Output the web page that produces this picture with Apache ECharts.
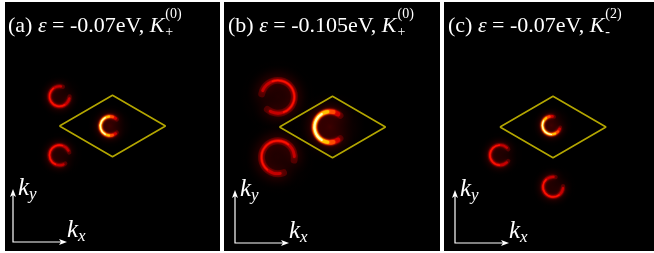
<!DOCTYPE html>
<html>
<head>
<meta charset="utf-8">
<script src="https://cdn.jsdelivr.net/npm/echarts@6/dist/echarts.min.js"></script>
<style>
  html, body { margin: 0; padding: 0; background: #fff; }
  #chart { width: 654px; height: 253px; }
</style>
</head>
<body>
<div id="chart"></div>
<script>
// panel labels
const panelTags = ['(a)', '(b)', '(c)'];
const energies = ['-0.07eV', '-0.105eV', '-0.07eV'];
const valleySub = ['+', '+', '-'];
const valleySup = ['(0)', '(0)', '(2)'];

// zone outline (k units, centred on the valley)
const rhombus = [[-1, 0], [0, 0.58], [1, 0], [0, -0.58], [-1, 0]];

// crescents: [kx, ky, radius, gap direction (deg), gap width (deg), brightness]
const crescentsA = [
  [-0.05, 0, 0.18, 0, 85, 1],
  [-1.0, 0.56, 0.19, 35, 70, 0.55],
  [-1.0, -0.55, 0.19, -20, 70, 0.55]
];
const crescentsB = [
  [-0.05, 0, 0.29, 0, 95, 1],
  [-1.03, 0.57, 0.31, 200, 60, 0.55],
  [-1.03, -0.57, 0.31, -40, 60, 0.55]
];
const crescentsC = [
  [-0.03, 0.03, 0.17, 30, 85, 1],
  [-1.0, -0.53, 0.19, 0, 70, 0.55],
  [0, -1.13, 0.19, 40, 70, 0.55]
];
const crescents = [crescentsA, crescentsB, crescentsC];

// layout
const boxes = [[5, 2, 215, 249], [224, 2, 216, 249], [444, 2, 210, 249]];
const centres = [[112.5, 126], [332.5, 127], [553, 127]];
const pxPerK = 53;
const arrowOrigins = [[13, 242], [235, 243], [455, 243]];

const chart = echarts.init(document.getElementById('chart'));

const ctx = document.createElement('canvas').getContext('2d');
const textW = (t, font) => { ctx.font = font; return ctx.measureText(t).width; };

const grids = [], xAxes = [], yAxes = [], series = [], graphics = [];

function renderCrescent(params, api) {
  const c = api.coord([api.value(0), api.value(1)]);
  const r = api.size([api.value(2), 0])[0];
  const dir = api.value(3) * Math.PI / 180;
  const gw = api.value(4) * Math.PI / 180;
  const b = api.value(5);
  const mid = -dir + Math.PI;
  const span = 2 * Math.PI - gw;
  const arc = (frac, color, width, blur, opacity) => ({
    type: 'arc',
    shape: { cx: c[0], cy: c[1], r: r, startAngle: mid - span * frac / 2, endAngle: mid + span * frac / 2, clockwise: true },
    style: { stroke: color, fill: 'none', lineWidth: width, lineCap: 'round', shadowBlur: blur, shadowColor: color, opacity: opacity }
  });
  const children = [
    {
      type: 'circle',
      shape: { cx: c[0], cy: c[1], r: r * 2.3 },
      style: {
        fill: new echarts.graphic.RadialGradient(0.5, 0.5, 0.5, [
          { offset: 0, color: `rgba(110,0,0,${0.55 * b})` },
          { offset: 0.5, color: `rgba(60,0,0,${0.32 * b})` },
          { offset: 1, color: 'rgba(30,0,0,0)' }
        ])
      }
    },
    arc(1, '#6a0000', r * 0.42, r * 0.7, 0.7)
  ];
  if (b > 0.8) {
    children.push(arc(0.92, '#d00000', r * 0.3, 3, 1));
    children.push(arc(0.78, '#ff4a00', r * 0.26, 2, 1));
    children.push(arc(0.62, '#ffc400', r * 0.2, 2, 1));
    children.push(arc(0.44, '#ffffb8', r * 0.12, 1, 1));
  } else {
    children.push(arc(0.92, '#c80000', Math.max(2.2, r * 0.17), 3, 0.95));
    children.push(arc(0.6, '#ff1400', Math.max(1.2, r * 0.08), 1, 0.8));
  }
  return { type: 'group', children: children };
}

boxes.forEach((box, i) => {
  const [left, top, w, h] = box;
  const [cx, cy] = centres[i];
  grids.push({ left: left, top: top, width: w, height: h, show: true, backgroundColor: '#000', borderWidth: 0 });
  xAxes.push({ gridIndex: i, type: 'value', min: (left - cx) / pxPerK, max: (left + w - cx) / pxPerK, show: false });
  yAxes.push({ gridIndex: i, type: 'value', min: -(top + h - cy) / pxPerK, max: (cy - top) / pxPerK, show: false });

  series.push({
    type: 'custom',
    xAxisIndex: i, yAxisIndex: i,
    data: crescents[i],
    renderItem: renderCrescent,
    silent: true, animation: false, z: 2
  });
  series.push({
    type: 'line',
    xAxisIndex: i, yAxisIndex: i,
    data: rhombus,
    symbol: 'none',
    lineStyle: { color: '#b3a600', width: 1.6 },
    silent: true, animation: false, z: 3
  });

  // title
  const fN = '22px "Liberation Serif"';
  const fI = 'italic 22px "Liberation Serif"';
  const fS = '14px "Liberation Serif"';
  let x = left + (i === 0 ? 3 : 4);
  const ty = 15;
  const parts = [
    [panelTags[i] + ' ', fN],
    ['\u03b5', fI],
    [' = ' + energies[i] + ', ', fN],
    ['K', fI]
  ];
  parts.forEach(([t, f]) => {
    graphics.push({ type: 'text', x: x, y: ty, style: { text: t, font: f, fill: '#fff' }, z: 10 });
    x += textW(t, f);
  });
  graphics.push({ type: 'text', x: x + 1, y: ty + 10, style: { text: valleySub[i], font: fS, fill: '#fff' }, z: 10 });
  graphics.push({ type: 'text', x: x + 1, y: ty - 8, style: { text: valleySup[i], font: fS, fill: '#fff' }, z: 10 });

  // axis arrows
  const [ox, oy] = arrowOrigins[i];
  const lenX = 54, lenY = 53;
  graphics.push({ type: 'polyline', shape: { points: [[ox, oy - lenY + 4], [ox, oy], [ox + lenX - 4, oy]] }, style: { stroke: '#fff', lineWidth: 1.2, fill: 'none' }, z: 10 });
  graphics.push({ type: 'polygon', shape: { points: [[ox, oy - lenY], [ox - 3, oy - lenY + 8], [ox, oy - lenY + 6], [ox + 3, oy - lenY + 8]] }, style: { fill: '#fff' }, z: 10 });
  graphics.push({ type: 'polygon', shape: { points: [[ox + lenX, oy], [ox + lenX - 8, oy - 3], [ox + lenX - 6, oy], [ox + lenX - 8, oy + 3]] }, style: { fill: '#fff' }, z: 10 });
  const fK = 'italic 25px "Liberation Serif"';
  const fKs = 'italic 17px "Liberation Serif"';
  graphics.push({ type: 'text', x: ox + 5, y: oy - 66, style: { text: 'k', font: fK, fill: '#fff' }, z: 10 });
  graphics.push({ type: 'text', x: ox + 5 + textW('k', fK), y: oy - 56, style: { text: 'y', font: fKs, fill: '#fff' }, z: 10 });
  graphics.push({ type: 'text', x: ox + lenX, y: oy - 24, style: { text: 'k', font: fK, fill: '#fff' }, z: 10 });
  graphics.push({ type: 'text', x: ox + lenX + textW('k', fK), y: oy - 14, style: { text: 'x', font: fKs, fill: '#fff' }, z: 10 });
});

chart.setOption({
  backgroundColor: '#fff',
  animation: false,
  grid: grids,
  xAxis: xAxes,
  yAxis: yAxes,
  series: series,
  graphic: { elements: graphics }
});

window.addEventListener('resize', () => chart.resize());
</script>
</body>
</html>
